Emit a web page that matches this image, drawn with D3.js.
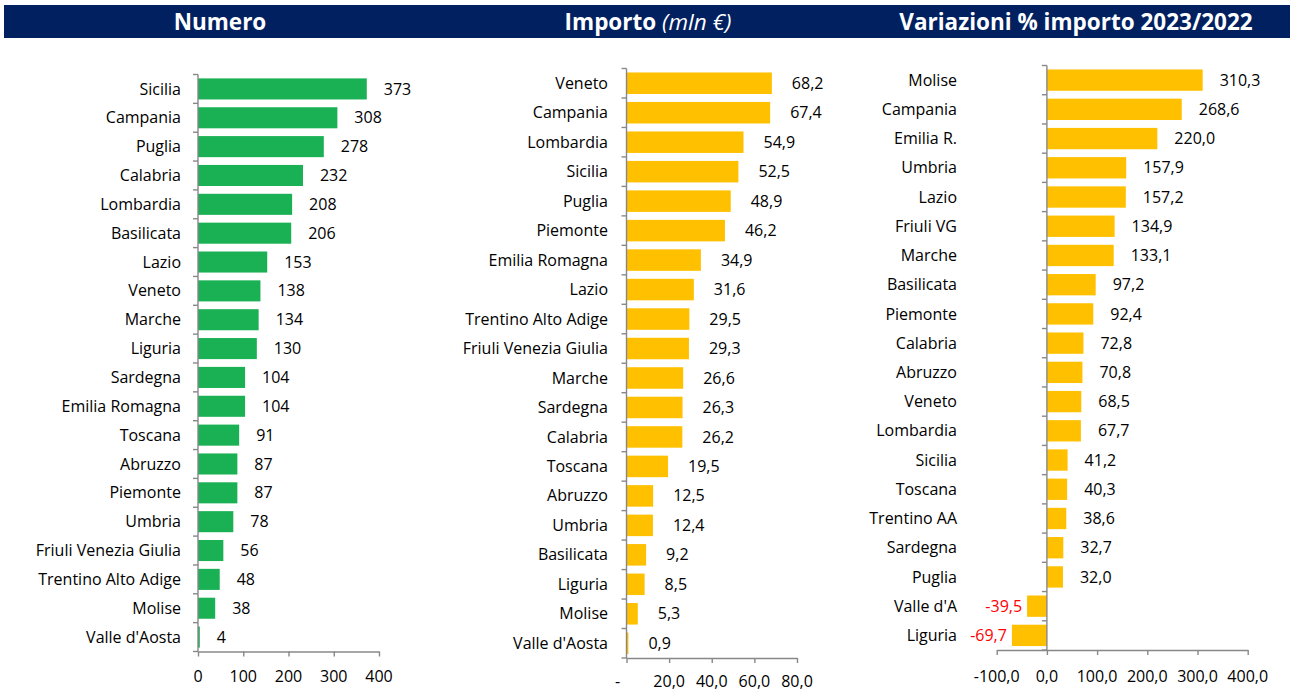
<!DOCTYPE html>
<html>
<head>
<meta charset="utf-8">
<script src="https://cdn.jsdelivr.net/npm/d3@7"></script>
<style>
  body { margin: 0; background: #fff; }
  text { font-family: "Open Sans", Lato, sans-serif; }
  .axis path, .axis line { stroke: #888; stroke-width: 1.4; }
</style>
</head>
<body>
<script>
var width = 1290,
    height = 691;

// Numero
var numRegions = ["Sicilia", "Campania", "Puglia", "Calabria", "Lombardia", "Basilicata", "Lazio", "Veneto",
    "Marche", "Liguria", "Sardegna", "Emilia Romagna", "Toscana", "Abruzzo", "Piemonte", "Umbria",
    "Friuli Venezia Giulia", "Trentino Alto Adige", "Molise", "Valle d'Aosta"];
var numValues = [373, 308, 278, 232, 208, 206, 153, 138, 134, 130, 104, 104, 91, 87, 87, 78, 56, 48, 38, 4];
var numTicks = [0, 100, 200, 300, 400];

// Importo (mln €)
var impRegions = ["Veneto", "Campania", "Lombardia", "Sicilia", "Puglia", "Piemonte", "Emilia Romagna", "Lazio",
    "Trentino Alto Adige", "Friuli Venezia Giulia", "Marche", "Sardegna", "Calabria", "Toscana", "Abruzzo",
    "Umbria", "Basilicata", "Liguria", "Molise", "Valle d'Aosta"];
var impValues = [68.2, 67.4, 54.9, 52.5, 48.9, 46.2, 34.9, 31.6, 29.5, 29.3, 26.6, 26.3, 26.2, 19.5, 12.5,
    12.4, 9.2, 8.5, 5.3, 0.9];
var impTicks = [0, 20, 40, 60, 80];

// Variazioni % importo 2023/2022
var varRegions = ["Molise", "Campania", "Emilia R.", "Umbria", "Lazio", "Friuli VG", "Marche", "Basilicata",
    "Piemonte", "Calabria", "Abruzzo", "Veneto", "Lombardia", "Sicilia", "Toscana", "Trentino AA",
    "Sardegna", "Puglia", "Valle d'A", "Liguria"];
var varValues = [310.3, 268.6, 220.0, 157.9, 157.2, 134.9, 133.1, 97.2, 92.4, 72.8, 70.8, 68.5, 67.7, 41.2,
    40.3, 38.6, 32.7, 32.0, -39.5, -69.7];
var varTicks = [-100, 0, 100, 200, 300, 400];

var headers = ["Numero", "Importo", "Variazioni % importo 2023/2022"];

var comma1 = function(d) { return d3.format(".1f")(d).replace(".", ",").replace("\u2212", "-"); };

var svg = d3.select("body").append("svg")
    .attr("width", width)
    .attr("height", height);

// header band
svg.append("rect")
    .attr("x", 4).attr("y", 5)
    .attr("width", width - 4).attr("height", 33)
    .attr("fill", "#002060");

var headerX = [220, 648, 1076];
headers.forEach(function(h, i) {
    var t = svg.append("text")
        .attr("x", headerX[i]).attr("y", 29.5)
        .attr("text-anchor", "middle")
        .attr("fill", "#fff")
        .style("font-size", "22.5px")
        .style("font-weight", "bold")
        .text(h);
    if (i === 1) {
        t.append("tspan")
            .style("font-style", "italic")
            .style("font-weight", "normal")
            .text(" (mln €)");
    }
});

var panels = [
    {regions: numRegions, values: numValues, ticks: numTicks, domain: [0, 400], xr: [198, 379], yr: [74.5, 651.5],
     labelEnd: 181, gap: 17, color: "#1AB054", tickFmt: d3.format("d"), valFmt: d3.format("d"), axisLabelY: 676},
    {regions: impRegions, values: impValues, ticks: impTicks, domain: [0, 80], xr: [626.5, 797], yr: [68.5, 658],
     labelEnd: 608, gap: 20, color: "#FFC000", tickFmt: function(d) { return d === 0 ? "-" : comma1(d); },
     valFmt: comma1, axisLabelY: 681},
    {regions: varRegions, values: varValues, ticks: varTicks, domain: [-100, 400], xr: [996.7, 1247.7], yr: [65.5, 650],
     labelEnd: 957, gap: 17, color: "#FFC000", tickFmt: comma1, valFmt: comma1, axisLabelY: 676}
];

panels.forEach(function(p) {
    var x = d3.scaleLinear().domain(p.domain).range(p.xr);
    var y = d3.scaleBand().domain(p.regions).range(p.yr)
        .paddingInner(0.27).paddingOuter(0.135);
    var g = svg.append("g");

    // bars
    g.selectAll("rect.bar")
        .data(p.values)
        .enter().append("rect")
        .attr("class", "bar")
        .attr("x", function(d) { return Math.min(x(0), x(d)); })
        .attr("y", function(d, i) { return y(p.regions[i]); })
        .attr("width", function(d) { return Math.abs(x(d) - x(0)); })
        .attr("height", y.bandwidth())
        .attr("fill", p.color);

    // value labels
    g.selectAll("text.val")
        .data(p.values)
        .enter().append("text")
        .attr("class", "val")
        .attr("x", function(d) { return d < 0 ? x(d) - 5 : x(d) + p.gap; })
        .attr("y", function(d, i) { return y(p.regions[i]) + y.bandwidth() / 2; })
        .attr("dy", "0.35em")
        .attr("text-anchor", function(d) { return d < 0 ? "end" : "start"; })
        .attr("fill", function(d) { return d < 0 ? "#FF0000" : "#000"; })
        .style("font-size", "16px")
        .text(function(d) { return p.valFmt(d); });

    // category labels
    g.selectAll("text.cat")
        .data(p.regions)
        .enter().append("text")
        .attr("class", "cat")
        .attr("x", p.labelEnd)
        .attr("y", function(d) { return y(d) + y.bandwidth() / 2; })
        .attr("dy", "0.35em")
        .attr("text-anchor", "end")
        .attr("fill", "#000")
        .style("font-size", "16px")
        .text(function(d) { return d; });

    // vertical axis at zero with ticks at band boundaries
    var step = y.step();
    var bounds = d3.range(p.regions.length + 1).map(function(i) { return p.yr[0] + i * step; });
    g.append("line")
        .attr("x1", x(0)).attr("x2", x(0))
        .attr("y1", p.yr[0]).attr("y2", p.yr[1])
        .attr("stroke", "#888").attr("stroke-width", 1.4);
    g.selectAll("line.ytick")
        .data(bounds)
        .enter().append("line")
        .attr("class", "ytick")
        .attr("x1", x(0) - 5).attr("x2", x(0))
        .attr("y1", function(d) { return d; }).attr("y2", function(d) { return d; })
        .attr("stroke", "#888").attr("stroke-width", 1.4);

    // horizontal axis
    var ax = g.append("g")
        .attr("class", "axis")
        .attr("transform", "translate(0," + p.yr[1] + ")")
        .call(d3.axisBottom(x).tickValues(p.ticks).tickSize(5).tickSizeOuter(0).tickFormat(""));
    ax.selectAll("text").remove();

    g.selectAll("text.xt")
        .data(p.ticks)
        .enter().append("text")
        .attr("class", "xt")
        .attr("x", function(d) { return p.tickFmt(d) === "-" ? x(d) - 9 : x(d); })
        .attr("y", p.axisLabelY)
        .attr("dy", "0.35em")
        .attr("text-anchor", "middle")
        .attr("fill", "#000")
        .style("font-size", "16px")
        .text(function(d) { return p.tickFmt(d); });
});
</script>
</body>
</html>
